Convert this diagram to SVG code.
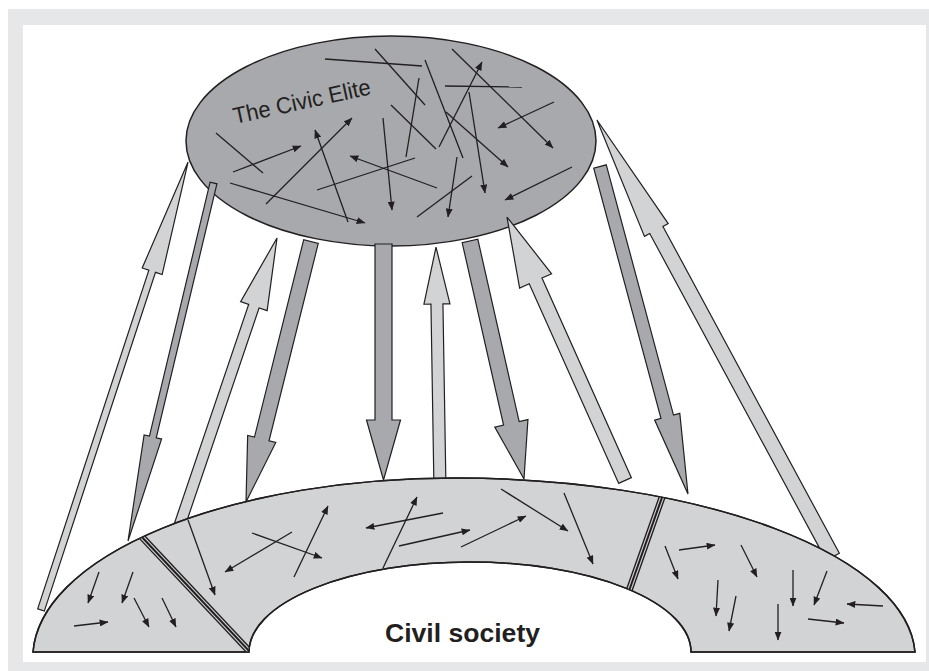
<svg xmlns="http://www.w3.org/2000/svg" width="929" height="671" viewBox="0 0 929 671">
<style>
.edge{stroke:#231f20;stroke-width:1.2;stroke-linejoin:miter}
.dark{fill:#a7a9ac}
.light{fill:#d1d3d4}
.ln{stroke:#231f20;stroke-width:1.3;fill:none}
.ar{stroke:#231f20;stroke-width:1.3;fill:none;marker-end:url(#ah)}
.label{font-family:"Liberation Sans",Arial,sans-serif;fill:#231f20}
</style>
<defs>
<marker id="ah" viewBox="0 0 10 8" refX="9.5" refY="4" markerWidth="9" markerHeight="7" markerUnits="userSpaceOnUse" orient="auto"><path d="M0,0 L10,4 L0,8 Z" fill="#231f20"/></marker>
<path id="archShape" d="M33,652 A422,180 0 0 1 455,478 A460,180 0 0 1 915,652 L691,652 A221,90 0 0 0 249,652 Z"/>
<clipPath id="archClip"><use href="#archShape"/></clipPath>
</defs>
<rect x="8" y="9" width="921" height="662" fill="#e6e7e8"/>
<rect x="23" y="25" width="903" height="637" fill="#ffffff"/>

<g id="civic-elite">
<ellipse cx="391" cy="141" rx="205" ry="105" class="dark" stroke="#231f20" stroke-width="1.5"/>
<text class="label" font-size="23" transform="translate(235,124) rotate(-12.3)" textLength="140" lengthAdjust="spacingAndGlyphs">The Civic Elite</text>
<line class="ln" x1="325" y1="59" x2="422" y2="66"/>
<line class="ln" x1="216" y1="133" x2="263" y2="173"/>
<line class="ln" x1="317" y1="190" x2="415" y2="158"/>
<line class="ln" x1="375" y1="49" x2="425" y2="105"/>
<line class="ln" x1="419" y1="78" x2="406" y2="157"/>
<line class="ln" x1="425" y1="60" x2="463" y2="158"/>
<line class="ln" x1="391" y1="105" x2="436" y2="149"/>
<line class="ln" x1="445" y1="86" x2="522" y2="87"/>
<line class="ln" x1="417" y1="217" x2="472" y2="176"/>
<line class="ar" x1="233" y1="172" x2="301" y2="146"/>
<line class="ar" x1="266" y1="204" x2="352" y2="118"/>
<line class="ar" x1="348" y1="222" x2="315" y2="130"/>
<line class="ar" x1="437" y1="188" x2="350" y2="156"/>
<line class="ar" x1="230" y1="183" x2="365" y2="223"/>
<line class="ar" x1="439" y1="147" x2="482" y2="62"/>
<line class="ar" x1="452" y1="49" x2="553" y2="148"/>
<line class="ar" x1="554" y1="102" x2="498" y2="128"/>
<line class="ar" x1="446" y1="112" x2="508" y2="167"/>
<line class="ar" x1="469" y1="92" x2="485" y2="193"/>
<line class="ar" x1="572" y1="167" x2="505" y2="200"/>
<line class="ar" x1="383" y1="118" x2="392" y2="210"/>
<line class="ar" x1="457" y1="157" x2="448" y2="217"/>
</g>

<g id="connectors">
<path class="light edge" transform="translate(41,610) rotate(-71.83)" d="M0,-3.5 H356.5 V-10.5 L471.5,0 L356.5,10.5 V3.5 H0 Z"/>
<path class="dark edge" transform="translate(213.5,183) rotate(103.43)" d="M0,-3.5 H261.1 V-9 L368.1,0 L261.1,9 V3.5 H0 Z"/>
<path class="light edge" transform="translate(178.8,527.5) rotate(-71.26)" d="M0,-5.5 H233.7 V-14 L305.7,0 L233.7,14 V5.5 H0 Z"/>
<path class="dark edge" transform="translate(311,241.5) rotate(104.01)" d="M0,-7.5 H203.5 V-14.5 L268.5,0 L203.5,14.5 V7.5 H0 Z"/>
<path class="dark edge" transform="translate(383.5,244) rotate(90)" d="M0,-8.5 H176 V-17 L236,0 L176,17 V8.5 H0 Z"/>
<path class="light edge" transform="translate(440,490) rotate(-90.94)" d="M0,-6 H186 V-13 L243,0 L186,13 V6 H0 Z"/>
<path class="dark edge" transform="translate(470,241) rotate(77.22)" d="M0,-8 H187 V-17 L244,0 L187,17 V8 H0 Z"/>
<path class="light edge" transform="translate(625,480.5) rotate(-114.13)" d="M0,-7 H218.7 V-17.5 L288.7,0 L218.7,17.5 V7 H0 Z"/>
<path class="dark edge" transform="translate(600,166.5) rotate(74.96)" d="M0,-6.5 H259.1 V-13 L339.1,0 L259.1,13 V6.5 H0 Z"/>
<path class="light edge" transform="translate(832.75,556.8) rotate(-118.36)" d="M0,-7.5 H371.4 V-13.5 L496.4,0 L371.4,13.5 V7.5 H0 Z"/>
</g>

<g id="civil-society">
<use href="#archShape" class="light" stroke="#231f20" stroke-width="1.5"/>
<g clip-path="url(#archClip)">
<line x1="135.5" y1="530.2" x2="255.5" y2="657.8" stroke="#231f20" stroke-width="7"/>
<line x1="135.5" y1="530.2" x2="255.5" y2="657.8" stroke="#d1d3d4" stroke-width="4.2"/>
<line x1="135.5" y1="530.2" x2="255.5" y2="657.8" stroke="#231f20" stroke-width="2"/>
<line x1="664.7" y1="489.8" x2="626.3" y2="598.5" stroke="#231f20" stroke-width="7"/>
<line x1="664.7" y1="489.8" x2="626.3" y2="598.5" stroke="#d1d3d4" stroke-width="4.2"/>
<line x1="664.7" y1="489.8" x2="626.3" y2="598.5" stroke="#231f20" stroke-width="2"/>
</g>
<use href="#archShape" fill="none" stroke="#231f20" stroke-width="1.5"/>
<line class="ar" x1="99" y1="572" x2="88" y2="603"/>
<line class="ar" x1="133" y1="572" x2="122" y2="603"/>
<line class="ar" x1="134" y1="598" x2="149" y2="627"/>
<line class="ar" x1="162" y1="598" x2="176" y2="627"/>
<line class="ar" x1="74" y1="626" x2="108" y2="622"/>
<line class="ar" x1="188" y1="520" x2="215" y2="595"/>
<line class="ar" x1="292" y1="532" x2="225" y2="572"/>
<line class="ar" x1="252" y1="533" x2="322" y2="558"/>
<line class="ar" x1="294" y1="577" x2="328" y2="506"/>
<line class="ar" x1="443" y1="513" x2="366" y2="528"/>
<line class="ar" x1="383" y1="568" x2="417" y2="497"/>
<line class="ar" x1="399" y1="546" x2="470" y2="530"/>
<line class="ar" x1="461" y1="547" x2="526" y2="516"/>
<line class="ar" x1="501" y1="489" x2="568" y2="531"/>
<line class="ar" x1="564" y1="493" x2="593" y2="564"/>
<line class="ar" x1="665" y1="546" x2="678" y2="579"/>
<line class="ar" x1="679" y1="550" x2="715" y2="545"/>
<line class="ar" x1="741" y1="545" x2="757" y2="577"/>
<line class="ar" x1="718" y1="580" x2="716" y2="616"/>
<line class="ar" x1="736" y1="596" x2="729" y2="631"/>
<line class="ar" x1="793" y1="570" x2="793" y2="606"/>
<line class="ar" x1="827" y1="571" x2="814" y2="605"/>
<line class="ar" x1="883" y1="606" x2="847" y2="604"/>
<line class="ar" x1="778" y1="604" x2="778" y2="640"/>
<line class="ar" x1="808" y1="619" x2="844" y2="623"/>
<text class="label" font-size="25" font-weight="bold" x="385" y="642" textLength="155" lengthAdjust="spacingAndGlyphs">Civil society</text>
</g>
</svg>
